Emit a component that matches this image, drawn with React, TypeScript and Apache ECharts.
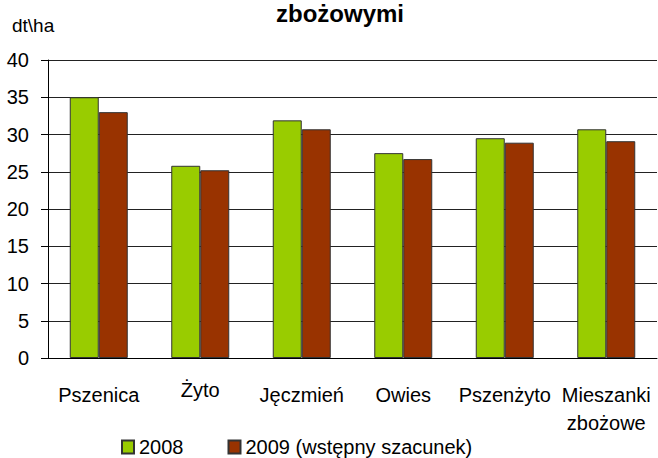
import React, { useEffect, useRef } from "react";
import * as echarts from "echarts";

const categories = ["Pszenica", "Żyto", "Jęczmień", "Owies", "Pszenżyto", "Mieszanki\nzbożowe"];
const values2008 = [35.0, 25.8, 31.9, 27.5, 29.5, 30.7];
const values2009 = [33.0, 25.2, 30.7, 26.7, 28.9, 29.1];
const seriesNames = ["2008", "2009 (wstępny szacunek)"];
const titleText = "zbożowymi";
const unitText = "dt\\ha";

const FONT = "'Liberation Sans', Arial, sans-serif";

export default function App() {
  const ref = useRef<HTMLDivElement>(null);
  useEffect(() => {
    if (!ref.current) return;
    const chart = echarts.init(ref.current, null, { renderer: "svg" });
    chart.setOption({
      animation: false,
      backgroundColor: "#ffffff",
      textStyle: { fontFamily: FONT },
      graphic: [
        {
          type: "text",
          x: 340,
          y: 13,
          style: {
            text: titleText,
            font: `bold 24px ${FONT}`,
            fill: "#000",
            align: "center",
            verticalAlign: "middle",
          },
        },
        {
          type: "text",
          x: 12,
          y: 25,
          style: {
            text: unitText,
            font: `19px ${FONT}`,
            fill: "#000",
            align: "left",
            verticalAlign: "middle",
          },
        },
      ],
      legend: {
        left: 121,
        top: 437,
        padding: 0,
        itemWidth: 12,
        itemHeight: 13,
        itemGap: 44,
        icon: "rect",
        textStyle: { fontSize: 20, color: "#000", fontFamily: FONT },
        data: seriesNames,
      },
      grid: { left: 48, right: 1, top: 60, bottom: 100 },
      xAxis: {
        type: "category",
        data: categories,
        axisLine: { lineStyle: { color: "#000", width: 1 } },
        axisTick: { show: false },
        axisLabel: {
          interval: 0,
          margin: 23,
          fontSize: 20,
          lineHeight: 28,
          color: "#000",
          fontFamily: FONT,
          formatter: (v: string) => (v === "Żyto" ? "{hi|" + v + "}" : v),
          rich: {
            hi: { fontSize: 20, lineHeight: 18, color: "#000", fontFamily: FONT },
          },
        },
      },
      yAxis: {
        type: "value",
        min: 0,
        max: 40,
        interval: 5,
        axisLine: { show: true, lineStyle: { color: "#000", width: 1 } },
        axisTick: { show: true, length: 7, lineStyle: { color: "#000" } },
        axisLabel: {
          margin: 19,
          fontSize: 20,
          color: "#000",
          fontFamily: FONT,
          padding: [3, 0, 0, 0],
        },
        splitLine: { show: true, lineStyle: { color: "#222", width: 1 } },
      },
      series: [
        {
          name: seriesNames[0],
          type: "bar",
          data: values2008,
          barWidth: 29,
          barGap: "0%",
          itemStyle: { color: "#99CC00", borderColor: "#333", borderWidth: 1 },
        },
        {
          name: seriesNames[1],
          type: "bar",
          data: values2009,
          barWidth: 29,
          barGap: "0%",
          itemStyle: { color: "#993300", borderColor: "#333", borderWidth: 1 },
        },
      ],
    });
    return () => chart.dispose();
  }, []);
  return <div ref={ref} style={{ width: 658, height: 458, position: "absolute", left: 0, top: 0 }} />;
}
